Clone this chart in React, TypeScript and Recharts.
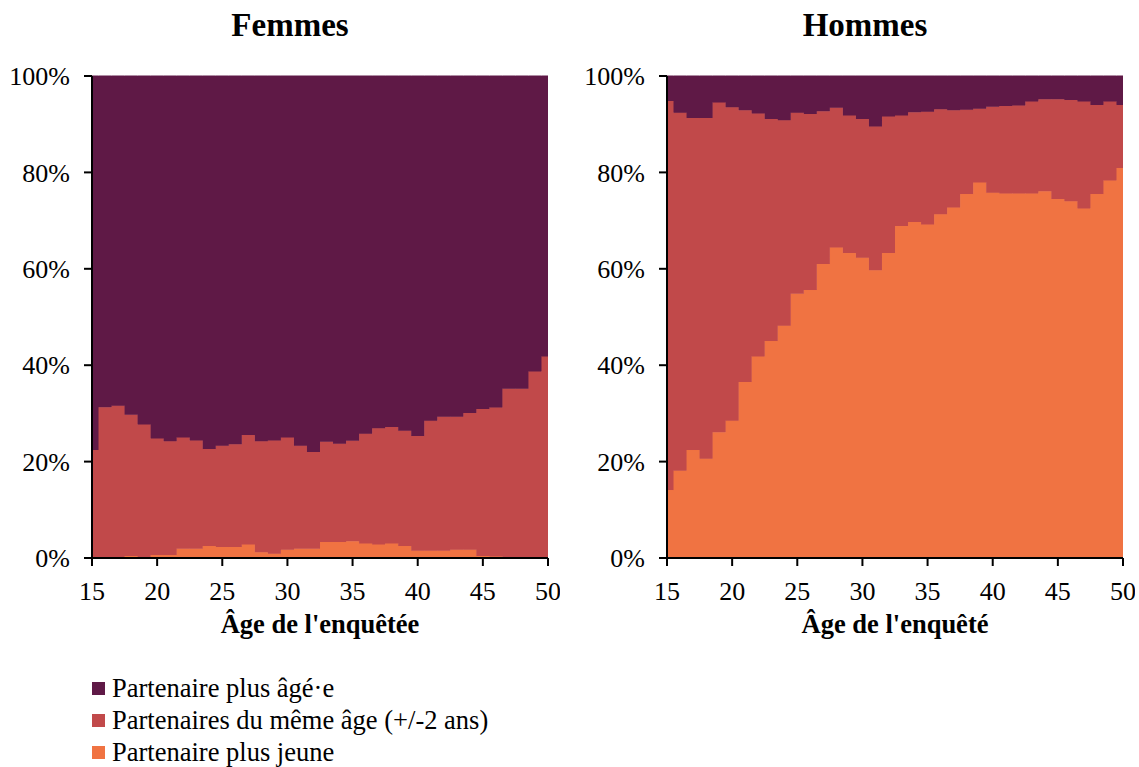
import React from 'react';
import { AreaChart, Area, XAxis, YAxis } from 'recharts';

const ages = [15, 16, 17, 18, 19, 20, 21, 22, 23, 24, 25, 26, 27, 28, 29, 30, 31, 32, 33, 34, 35, 36, 37, 38, 39, 40, 41, 42, 43, 44, 45, 46, 47, 48, 49, 50];

// Femmes (%)
const femmesPlusAge = [77.6, 68.7, 68.4, 70.3, 72.3, 75.2, 75.8, 75.0, 75.6, 77.4, 76.7, 76.4, 74.5, 75.8, 75.6, 75.0, 76.7, 78.0, 75.9, 76.3, 75.7, 74.2, 73.1, 72.8, 73.6, 74.7, 71.5, 70.7, 70.7, 69.9, 69.1, 68.8, 64.9, 64.9, 61.3, 58.2];
const femmesMemeAge = [22.4, 31.3, 31.6, 29.3, 27.5, 24.2, 23.6, 23.1, 22.5, 20.1, 21.0, 21.3, 22.7, 23.0, 23.5, 23.3, 21.4, 20.1, 20.8, 20.4, 20.8, 22.8, 24.1, 24.2, 23.9, 23.8, 27.0, 27.8, 27.6, 28.4, 30.5, 30.9, 35.0, 35.1, 38.7, 41.8];
const femmesPlusJeune = [0, 0, 0, 0.4, 0.2, 0.6, 0.6, 1.9, 1.9, 2.5, 2.3, 2.3, 2.8, 1.2, 0.9, 1.7, 1.9, 1.9, 3.3, 3.3, 3.5, 3.0, 2.8, 3.0, 2.5, 1.5, 1.5, 1.5, 1.7, 1.7, 0.4, 0.3, 0.1, 0, 0, 0];

// Hommes (%)
const hommesPlusAge = [5.2, 7.6, 8.7, 8.7, 5.5, 6.5, 7.1, 7.8, 8.9, 9.2, 7.6, 7.9, 7.3, 6.6, 8.2, 8.9, 10.5, 8.4, 8.2, 7.5, 7.4, 6.9, 7.1, 7.0, 6.8, 6.4, 6.2, 6.1, 5.3, 4.8, 4.8, 5.0, 5.3, 6.0, 5.3, 6.0];
const hommesMemeAge = [80.7, 74.3, 68.9, 70.7, 68.4, 65.0, 56.4, 50.4, 46.1, 42.6, 37.6, 36.5, 31.7, 29.0, 28.5, 28.8, 29.8, 28.3, 22.9, 22.8, 23.4, 21.8, 20.2, 17.5, 15.3, 17.8, 18.2, 18.3, 19.1, 19.1, 20.7, 21.0, 22.2, 18.5, 16.4, 13.1];
const hommesPlusJeune = [14.1, 18.1, 22.4, 20.6, 26.1, 28.5, 36.5, 41.8, 45.0, 48.2, 54.8, 55.6, 61.0, 64.4, 63.3, 62.3, 59.7, 63.3, 68.9, 69.7, 69.2, 71.3, 72.7, 75.5, 77.9, 75.8, 75.6, 75.6, 75.6, 76.1, 74.5, 74.0, 72.5, 75.5, 78.3, 80.9];

const xTicks = [15, 20, 25, 30, 35, 40, 45, 50];
const yTicks = [0, 20, 40, 60, 80, 100];

const series = [
  { key: 'plusAge', name: 'Partenaire plus âgé·e', color: '#5F1946' },
  { key: 'memeAge', name: 'Partenaires du même âge (+/-2 ans)', color: '#C1494A' },
  { key: 'plusJeune', name: 'Partenaire plus jeune', color: '#F07342' },
];

const FONT = '"Liberation Serif", "Times New Roman", serif';

const buildRows = (plusAge: number[], memeAge: number[], plusJeune: number[]) =>
  ages.map((age, i) => ({ age, plusAge: plusAge[i], memeAge: memeAge[i], plusJeune: plusJeune[i] }));

const femmesData = buildRows(femmesPlusAge, femmesMemeAge, femmesPlusJeune);
const hommesData = buildRows(hommesPlusAge, hommesMemeAge, hommesPlusJeune);

const tickStyle = { fill: '#000', fontSize: 26, fontFamily: FONT };
const axisLine = { stroke: '#000', strokeWidth: 2 };

const Panel = ({ title, xLabel, data, left }: { title: string; xLabel: string; data: any[]; left: number }) => (
  <div style={{ position: 'absolute', left, top: 0, width: 560, height: 650 }}>
    <div
      style={{
        position: 'absolute',
        left: 0,
        top: 6,
        width: 580,
        textAlign: 'center',
        fontFamily: FONT,
        fontWeight: 'bold',
        fontSize: 33,
        lineHeight: '38px',
      }}
    >
      {title}
    </div>
    <AreaChart width={560} height={650} data={data} margin={{ top: 76, right: 12, bottom: 12, left: 0 }}>
      <XAxis
        dataKey="age"
        type="number"
        domain={[15, 50]}
        ticks={xTicks}
        interval={0}
        height={80}
        tick={tickStyle}
        tickSize={8}
        tickMargin={16}
        axisLine={axisLine}
        tickLine={axisLine}
        label={{ value: xLabel, position: 'insideBottom', offset: 5, fill: '#000', fontSize: 26.5, fontWeight: 'bold', fontFamily: FONT }}
      />
      <YAxis
        type="number"
        domain={[0, 100]}
        ticks={yTicks}
        interval={0}
        width={92}
        tick={tickStyle}
        tickSize={8}
        tickMargin={14}
        tickFormatter={(v: number) => `${v}%`}
        axisLine={axisLine}
        tickLine={axisLine}
      />
      {[...series].reverse().map((s) => (
        <Area
          key={s.key}
          type="step"
          dataKey={s.key}
          name={s.name}
          stackId="1"
          fill={s.color}
          fillOpacity={1}
          stroke={s.color}
          strokeWidth={1}
          isAnimationActive={false}
        />
      ))}
    </AreaChart>
  </div>
);

export default function App() {
  return (
    <div style={{ position: 'absolute', left: 0, top: 0, width: 1139, height: 767, background: '#fff', fontFamily: FONT }}>
      <Panel title="Femmes" xLabel="Âge de l'enquêtée" data={femmesData} left={0} />
      <Panel title="Hommes" xLabel="Âge de l'enquêté" data={hommesData} left={575} />
      <div style={{ position: 'absolute', left: 92, top: 672 }}>
        {series.map((s) => (
          <div key={s.key} style={{ display: 'flex', alignItems: 'center', height: 32, fontSize: 26.5, color: '#000' }}>
            <span style={{ display: 'inline-block', width: 13, height: 13, background: s.color, marginRight: 7 }} />
            <span>{s.name}</span>
          </div>
        ))}
      </div>
    </div>
  );
}
